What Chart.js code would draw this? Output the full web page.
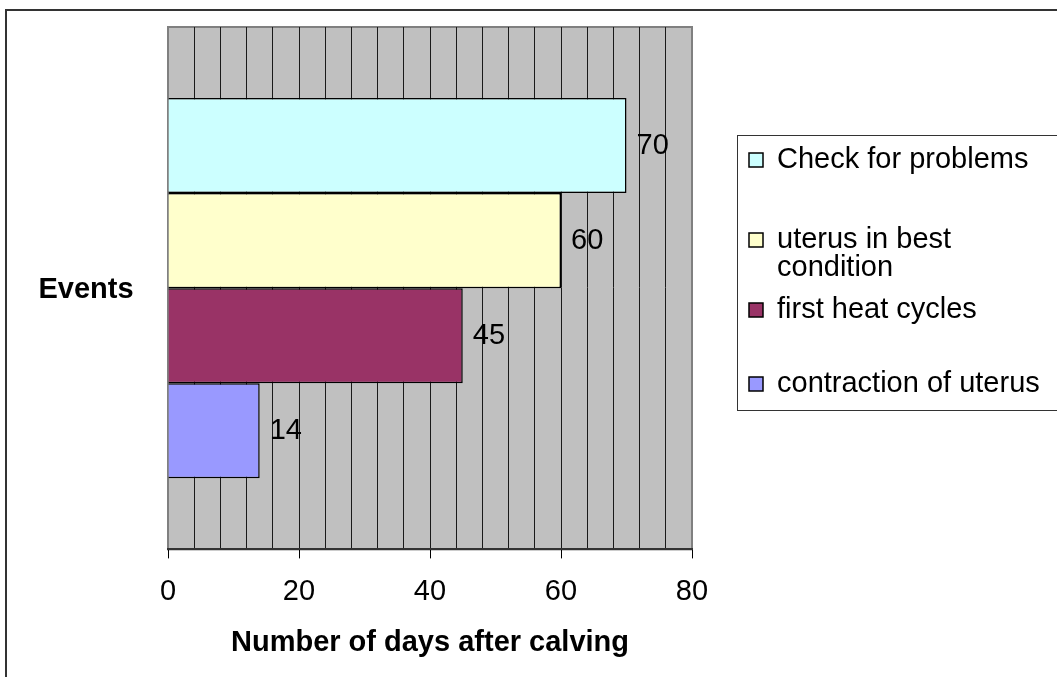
<!DOCTYPE html>
<html>
<head>
<meta charset="utf-8">
<script src="https://cdn.jsdelivr.net/npm/chart.js@4.4.1/dist/chart.umd.min.js"></script>
<style>
    body { margin: 0; background: #fff; }
    #wrap { width: 1057px; height: 677px; }
</style>
</head>
<body>
<div id="wrap"><canvas id="chart" width="1057" height="677"></canvas></div>
<script>
// chart data
const categories = [''];
const seriesNames = ['Check for problems', 'uterus in best condition', 'first heat cycles', 'contraction of uterus'];
const seriesValues = [70, 60, 45, 14];
const seriesColors = ['#CCFFFF', '#FFFFCC', '#993366', '#9999FF'];
const xTicks = [0, 20, 40, 60, 80];
const xTitle = 'Number of days after calving';
const yTitle = 'Events';

const FONT = '"Liberation Sans", Arial, sans-serif';

const excelLook = {
    id: 'excelLook',
    beforeDraw(chart) {
        const { ctx, chartArea: a } = chart;
        ctx.save();
        // outer frame
        ctx.strokeStyle = '#333';
        ctx.lineWidth = 2;
        ctx.strokeRect(6, 10, 1200, 1000);
        // plot area
        ctx.fillStyle = '#C0C0C0';
        ctx.fillRect(a.left, a.top, a.right - a.left, a.bottom - a.top);
        ctx.strokeStyle = '#808080';
        ctx.strokeRect(a.left, a.top, a.right - a.left, a.bottom - a.top);
        ctx.restore();
    },
    afterDatasetsDraw(chart) {
        const { ctx } = chart;
        ctx.save();
        ctx.font = '29px ' + FONT;
        ctx.fillStyle = '#000';
        ctx.textBaseline = 'middle';
        ctx.textAlign = 'left';
        chart.data.datasets.forEach((ds, i) => {
            const bar = chart.getDatasetMeta(i).data[0];
            ctx.fillText(String(ds.data[0]), bar.x + 10, bar.y);
        });
        ctx.restore();
    },
    afterDraw(chart) {
        const { ctx, chartArea: a } = chart;
        ctx.save();
        // y title
        ctx.font = 'bold 29px ' + FONT;
        ctx.fillStyle = '#000';
        ctx.textAlign = 'center';
        ctx.textBaseline = 'middle';
        ctx.fillText(yTitle, 86, (a.top + a.bottom) / 2 + 2);

        // legend box
        ctx.fillStyle = '#fff';
        ctx.fillRect(737, 135, 400, 275);
        ctx.strokeStyle = '#333';
        ctx.lineWidth = 1;
        ctx.strokeRect(737.5, 135.5, 400, 275);
        const rowY = [160, 240, 310, 384];
        ctx.font = '29px ' + FONT;
        ctx.textAlign = 'left';
        seriesNames.forEach((name, i) => {
            ctx.fillStyle = seriesColors[i];
            ctx.fillRect(749, rowY[i] - 7, 14, 14);
            ctx.strokeStyle = '#000';
            ctx.lineWidth = 1.5;
            ctx.strokeRect(749, rowY[i] - 7, 14, 14);
            // wrap long names
            const words = name.split(' ');
            let line = '', y = rowY[i];
            words.forEach(w => {
                const test = line ? line + ' ' + w : w;
                if (ctx.measureText(test).width > 280 && line) {
                    ctx.fillStyle = '#000';
                    ctx.fillText(line, 777, y);
                    line = w;
                    y += 28;
                } else {
                    line = test;
                }
            });
            ctx.fillStyle = '#000';
            ctx.fillText(line, 777, y);
        });
        ctx.restore();
    }
};

new Chart(document.getElementById('chart'), {
    type: 'bar',
    data: {
        labels: categories,
        datasets: seriesNames.map((name, i) => ({
            label: name,
            data: [seriesValues[i]],
            backgroundColor: seriesColors[i],
            borderColor: '#000',
            borderWidth: 1.5,
            categoryPercentage: 0.728,
            barPercentage: 1
        }))
    },
    options: {
        indexAxis: 'y',
        responsive: false,
        animation: false,
        layout: { padding: { left: 168, top: 27, right: 365, bottom: 17 } },
        plugins: {
            legend: { display: false },
            tooltip: { enabled: false }
        },
        scales: {
            y: { display: false },
            x: {
                min: xTicks[0],
                max: xTicks[xTicks.length - 1],
                ticks: {
                    stepSize: 4,
                    autoSkip: false,
                    maxRotation: 0,
                    padding: 16,
                    color: '#000',
                    font: { family: FONT, size: 29 },
                    callback: v => xTicks.includes(v) ? v : ''
                },
                grid: {
                    color: ctx => (ctx.tick && (ctx.tick.value === 0 || ctx.tick.value === 80)) ? '#808080' : '#1a1a1a',
                    lineWidth: 1,
                    tickLength: 9,
                    tickColor: ctx => xTicks.includes(ctx.tick.value) ? '#000' : 'rgba(0,0,0,0)'
                },
                border: { display: true, color: '#333', width: 2 },
                title: {
                    display: true,
                    text: xTitle,
                    color: '#000',
                    font: { family: FONT, size: 29, weight: 'bold' },
                    padding: { top: 0, bottom: 0 }
                }
            }
        }
    },
    plugins: [excelLook]
});
</script>
</body>
</html>
